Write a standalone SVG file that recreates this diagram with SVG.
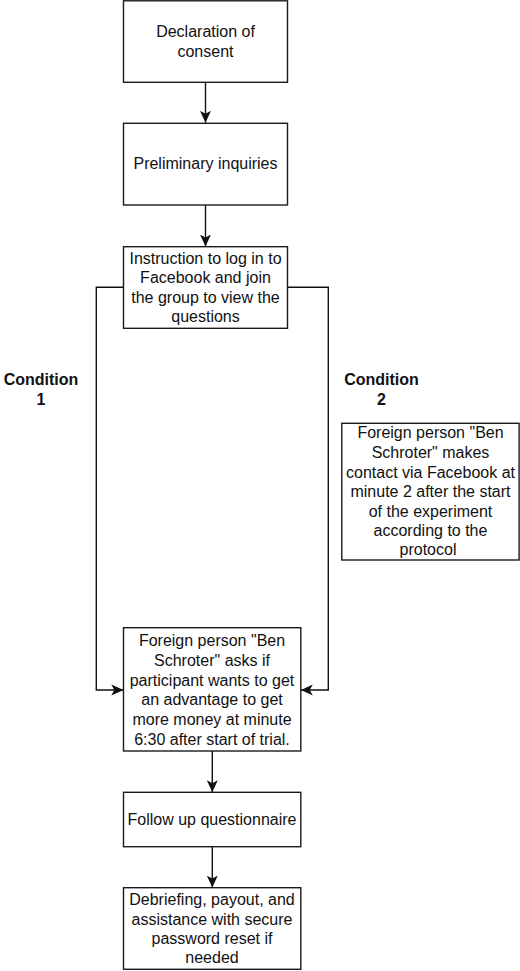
<svg xmlns="http://www.w3.org/2000/svg" width="520" height="971" viewBox="0 0 520 971">
<style>
.box{fill:#fff;stroke:#1a1a1a;stroke-width:1.4}
.t{font-family:"Liberation Sans",Arial,sans-serif;font-size:16px;fill:#111;text-anchor:middle;dominant-baseline:central}
.b{font-weight:bold}
.c{fill:none;stroke:#111;stroke-width:1.4}
</style>
<defs>
<marker id="arr" viewBox="0 0 12 12" refX="12" refY="6" markerWidth="12" markerHeight="12" markerUnits="userSpaceOnUse" orient="auto">
<path d="M0,0.5 L12,6 L0,11.5 L3,6 Z" fill="#111"/>
</marker>
</defs>
<rect width="520" height="971" fill="#fff"/>
<g id="connectors">
<path class="c" d="M205.5,82.3 V122.8" marker-end="url(#arr)"/>
<path class="c" d="M205.5,205 V246.5" marker-end="url(#arr)"/>
<path class="c" d="M123.5,287.3 H96.3 V690 H123.3" marker-end="url(#arr)"/>
<path class="c" d="M287.3,287.3 H328.3 V690 H300.8" marker-end="url(#arr)"/>
<path class="c" d="M212.3,751 V792.2" marker-end="url(#arr)"/>
<path class="c" d="M212.3,846.7 V887.6" marker-end="url(#arr)"/>
</g>
<g id="consent">
<rect class="box" x="123.5" y="0.8" width="164" height="81.5"/>
<text class="t" x="205.5" y="31.7">Declaration of</text>
<text class="t" x="205.5" y="51.5">consent</text>
</g>
<g id="inquiries">
<rect class="box" x="123.5" y="123.3" width="164" height="81.7"/>
<text class="t" x="205.5" y="163.5">Preliminary inquiries</text>
</g>
<g id="instruction">
<rect class="box" x="123.5" y="246.7" width="164" height="81.6"/>
<text class="t" x="205.5" y="258.5">Instruction to log in to</text>
<text class="t" x="205.5" y="277.8">Facebook and join</text>
<text class="t" x="205.5" y="297.3">the group to view the</text>
<text class="t" x="205.5" y="316.3">questions</text>
</g>
<g id="cond1">
<text class="t b" x="41" y="379.5">Condition</text>
<text class="t b" x="41" y="399.5">1</text>
</g>
<g id="cond2">
<text class="t b" x="381.5" y="379.5">Condition</text>
<text class="t b" x="381.5" y="399.5">2</text>
</g>
<g id="contact">
<rect class="box" x="341.8" y="423.3" width="177.3" height="136.7"/>
<text class="t" x="430.5" y="432.8">Foreign person "Ben</text>
<text class="t" x="430.5" y="452.5">Schroter" makes</text>
<text class="t" x="430.5" y="472">contact via Facebook at</text>
<text class="t" x="430.5" y="491.3">minute 2 after the start</text>
<text class="t" x="430.5" y="511">of the experiment</text>
<text class="t" x="430.5" y="530.5">according to the</text>
<text class="t" x="428" y="549.8">protocol</text>
</g>
<g id="offer">
<rect class="box" x="123.5" y="627.7" width="177.3" height="123.3"/>
<text class="t" x="212" y="640.3">Foreign person "Ben</text>
<text class="t" x="212" y="660.2">Schroter" asks if</text>
<text class="t" x="212" y="680">participant wants to get</text>
<text class="t" x="212" y="699.8">an advantage to get</text>
<text class="t" x="212" y="719.5">more money at minute</text>
<text class="t" x="212" y="739.2">6:30 after start of trial.</text>
</g>
<g id="followup">
<rect class="box" x="123.5" y="792.3" width="177.3" height="54.4"/>
<text class="t" x="212" y="819.2">Follow up questionnaire</text>
</g>
<g id="debrief">
<rect class="box" x="123.5" y="887.7" width="177.3" height="81.6"/>
<text class="t" x="212" y="899.5">Debriefing, payout, and</text>
<text class="t" x="212" y="919">assistance with secure</text>
<text class="t" x="212" y="938.5">password reset if</text>
<text class="t" x="212" y="957.8">needed</text>
</g>
</svg>
